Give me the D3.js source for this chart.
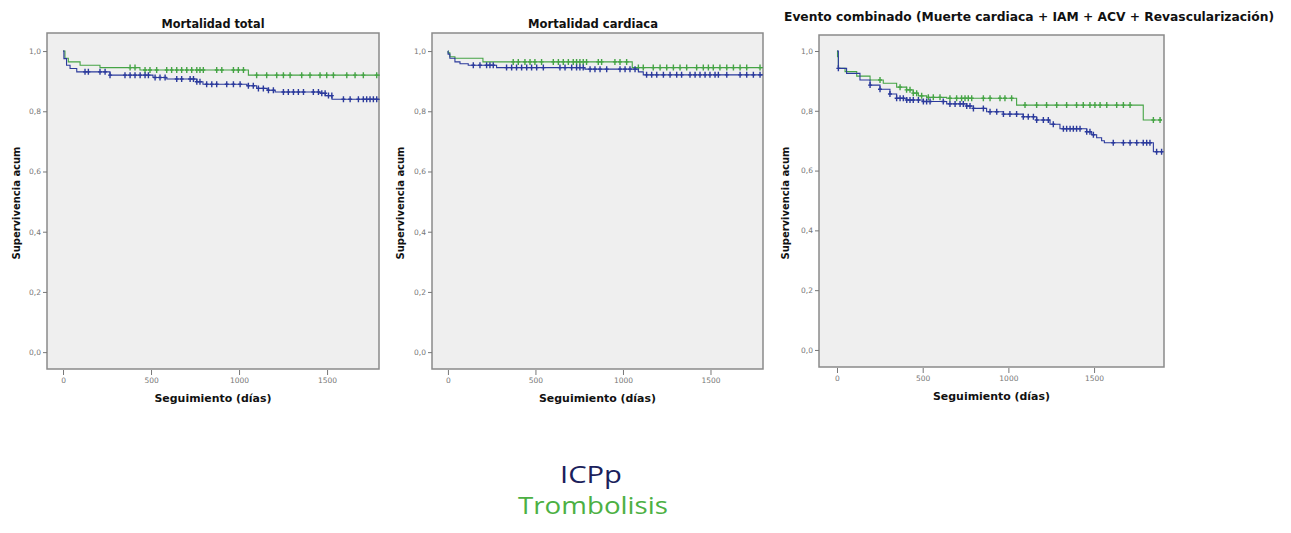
<!DOCTYPE html>
<html>
<head>
<meta charset="utf-8">
<script src="https://cdn.jsdelivr.net/npm/d3@7"></script>
<style>
  body { margin: 0; background: #fff; }
  svg { display: block; }
</style>
</head>
<body>
<div id="chart"></div>
<script>
let width = 1291;
let height = 533;

// títulos de los paneles
let titles = [
    'Mortalidad total',
    'Mortalidad cardiaca',
    'Evento combinado (Muerte cardiaca + IAM + ACV + Revascularización)'
];
let xTicks = [0, 500, 1000, 1500];
let yTicks = [0, 0.2, 0.4, 0.6, 0.8, 1.0];
let xLabel = 'Seguimiento (días)';
let yLabel = 'Supervivencia acum';
let seriesNames = ['ICPp', 'Trombolisis'];

// Mortalidad total - ICPp
let p1IcppT = [0, 5, 20, 40, 78, 267, 511, 590, 760, 795, 1045, 1100, 1160, 1205, 1460, 1490, 1528, 1800];
let p1IcppS = [1.0, 0.975, 0.953, 0.942, 0.931, 0.920, 0.912, 0.907, 0.898, 0.890, 0.885, 0.876, 0.870, 0.864, 0.860, 0.852, 0.840, 0.840];
let p1IcppC = [125, 144, 210, 239, 267, 352, 381, 409, 438, 466, 485, 523, 551, 580, 646, 674, 722, 741, 760, 778, 816, 845, 873, 930, 968, 1006, 1053, 1081, 1110, 1138, 1167, 1195, 1252, 1280, 1309, 1337, 1366, 1422, 1451, 1470, 1489, 1508, 1527, 1593, 1631, 1678, 1706, 1725, 1744, 1763, 1782];
// Mortalidad total - Trombolisis
let p1TromT = [0, 11, 30, 97, 210, 437, 1053, 1800];
let p1TromS = [1.0, 0.976, 0.964, 0.953, 0.945, 0.937, 0.920, 0.920];
let p1TromC = [381, 409, 466, 494, 532, 589, 617, 646, 674, 703, 731, 760, 778, 797, 873, 902, 968, 996, 1025, 1100, 1157, 1214, 1252, 1290, 1356, 1403, 1460, 1498, 1536, 1612, 1659, 1706, 1782];

// Mortalidad cardiaca - ICPp
let p2IcppT = [0, 1, 11, 40, 69, 116, 278, 783, 1088, 1116, 1800];
let p2IcppS = [1.0, 0.99, 0.976, 0.964, 0.958, 0.953, 0.945, 0.940, 0.931, 0.921, 0.921];
let p2IcppC = [145, 183, 221, 240, 259, 335, 364, 392, 421, 450, 478, 507, 545, 640, 669, 707, 735, 754, 773, 812, 840, 869, 907, 983, 1012, 1040, 1069, 1135, 1164, 1193, 1231, 1269, 1307, 1335, 1383, 1412, 1440, 1469, 1497, 1526, 1545, 1593, 1669, 1707, 1745, 1783];
// Mortalidad cardiaca - Trombolisis
let p2TromT = [0, 1, 11, 40, 200, 1053, 1800];
let p2TromS = [1.0, 0.994, 0.981, 0.976, 0.964, 0.945, 0.945];
let p2TromC = [373, 402, 440, 469, 497, 535, 602, 631, 659, 688, 716, 735, 754, 773, 792, 859, 878, 954, 983, 1021, 1088, 1116, 1173, 1212, 1250, 1288, 1326, 1364, 1421, 1459, 1488, 1516, 1554, 1593, 1631, 1669, 1707, 1783];

// Evento combinado - ICPp
let p3IcppT = [0, 8, 56, 134, 193, 251, 309, 348, 407, 504, 640, 757, 796, 873, 971, 1087, 1165, 1243, 1301, 1457, 1486, 1515, 1544, 1560, 1846, 1900];
let p3IcppS = [1.0, 0.942, 0.925, 0.903, 0.886, 0.872, 0.856, 0.842, 0.836, 0.831, 0.823, 0.816, 0.808, 0.797, 0.789, 0.780, 0.769, 0.755, 0.740, 0.730, 0.720, 0.710, 0.700, 0.693, 0.663, 0.663];
let p3IcppC = [8, 193, 251, 309, 348, 368, 387, 407, 426, 445, 475, 504, 523, 543, 620, 659, 689, 718, 737, 757, 776, 796, 854, 893, 932, 971, 1009, 1048, 1087, 1116, 1146, 1165, 1204, 1233, 1262, 1321, 1340, 1360, 1379, 1398, 1418, 1457, 1476, 1496, 1612, 1671, 1710, 1749, 1787, 1807, 1826, 1865, 1894];
// Evento combinado - Trombolisis
let p3TromT = [0, 3, 8, 47, 115, 193, 270, 348, 406, 445, 475, 523, 640, 1048, 1787, 1895];
let p3TromS = [1.0, 0.981, 0.942, 0.931, 0.916, 0.903, 0.892, 0.879, 0.870, 0.859, 0.850, 0.845, 0.842, 0.819, 0.769, 0.769];
let p3TromC = [251, 368, 406, 426, 445, 465, 494, 533, 562, 601, 659, 698, 727, 747, 766, 786, 854, 893, 951, 980, 1019, 1097, 1165, 1223, 1282, 1340, 1398, 1437, 1476, 1505, 1535, 1574, 1632, 1671, 1710, 1846, 1885];

let blue = '#2b3a9c';
let green = '#45a445';

// posición de cada panel (caja del gráfico en píxeles)
let panels = [
    { box: { left: 47, right: 379, top: 33, bottom: 369 }, xDom: [-91, 1795], yDom: [-0.056, 1.06], titleY: 28, titleX: 213, titleW: 103, yLabX: 16,
      icpp: [p1IcppT, p1IcppS, p1IcppC], trom: [p1TromT, p1TromS, p1TromC] },
    { box: { left: 432, right: 763, top: 33, bottom: 369 }, xDom: [-91, 1800], yDom: [-0.056, 1.06], titleY: 28, titleX: 593, titleW: 130, yLabX: 400,
      icpp: [p2IcppT, p2IcppS, p2IcppC], trom: [p2TromT, p2TromS, p2TromC] },
    { box: { left: 819, right: 1164, top: 35, bottom: 367 }, xDom: [-105, 1908], yDom: [-0.057, 1.0535], titleY: 21, titleX: 1029, titleW: 490, yLabX: 785,
      icpp: [p3IcppT, p3IcppS, p3IcppC], trom: [p3TromT, p3TromS, p3TromC] }
];

let svg = d3.select('#chart').append('svg')
    .attr('width', width).attr('height', height);

let fmt = d => d3.format('.1f')(d).replace('.', ',');

panels.forEach((p, i) => {
    let b = p.box;
    let xScale = d3.scaleLinear().domain(p.xDom).range([b.left, b.right]);
    let yScale = d3.scaleLinear().domain(p.yDom).range([b.bottom, b.top]);

    svg.append('rect')
        .attr('x', b.left).attr('y', b.top)
        .attr('width', b.right - b.left).attr('height', b.bottom - b.top)
        .attr('fill', '#efefef')
        .attr('stroke', '#8a8a8a').attr('stroke-width', 1.5);

    // eje y
    let yAxis = d3.axisLeft(yScale).tickValues(yTicks).tickFormat(fmt).tickSize(4).tickPadding(2);
    let gy = svg.append('g')
        .attr('transform', 'translate(' + b.left + ',0)')
        .call(yAxis);
    gy.select('.domain').remove();
    gy.selectAll('line').attr('stroke', '#777');
    gy.selectAll('text').attr('fill', '#777').style('font-family', 'DejaVu Sans').style('font-size', '7.5px');

    // eje x
    let xAxis = d3.axisBottom(xScale).tickValues(xTicks).tickFormat(d3.format('d')).tickSize(5).tickPadding(3);
    let gx = svg.append('g')
        .attr('transform', 'translate(0,' + (b.bottom + 1) + ')')
        .call(xAxis);
    gx.select('.domain').remove();
    gx.selectAll('line').attr('stroke', '#777');
    gx.selectAll('text').attr('fill', '#777').style('font-family', 'DejaVu Sans').style('font-size', '7.5px');

    svg.append('text')
        .text(titles[i])
        .attr('x', p.titleX).attr('y', p.titleY)
        .attr('text-anchor', 'middle')
        .attr('textLength', p.titleW)
        .attr('lengthAdjust', 'spacingAndGlyphs')
        .style('font-family', 'DejaVu Sans').style('font-weight', 'bold').style('font-size', '11.5px')
        .attr('fill', '#111');

    svg.append('text')
        .text(xLabel)
        .attr('x', (b.left + b.right) / 2).attr('y', b.bottom + 33)
        .attr('text-anchor', 'middle')
        .attr('textLength', 117)
        .attr('lengthAdjust', 'spacingAndGlyphs')
        .style('font-family', 'DejaVu Sans').style('font-weight', 'bold').style('font-size', '10.5px')
        .attr('fill', '#111');

    svg.append('text')
        .text(yLabel)
        .attr('transform', 'translate(' + p.yLabX + ',' + ((b.top + b.bottom) / 2 + 2) + ') rotate(-90)')
        .attr('text-anchor', 'middle')
        .attr('dy', '0.35em')
        .attr('textLength', 113)
        .attr('lengthAdjust', 'spacingAndGlyphs')
        .style('font-family', 'DejaVu Sans').style('font-weight', 'bold').style('font-size', '10px')
        .attr('fill', '#111');

    let line = d3.line()
        .x(d => xScale(d[0]))
        .y(d => yScale(d[1]))
        .curve(d3.curveStepAfter);

    // primero Trombolisis, después ICPp encima
    [[p.trom, green], [p.icpp, blue]].forEach(([s, col]) => {
        let pts = s[0].map((t, k) => [t, s[1][k]]);
        svg.append('path')
            .datum(pts)
            .attr('d', line)
            .attr('fill', 'none')
            .attr('stroke', col)
            .attr('stroke-width', 1.1);

        // marcas de censura (+)
        let stepVal = t => s[1][Math.max(0, d3.bisectRight(s[0], t) - 1)];
        svg.append('g').selectAll('path')
            .data(s[2])
            .enter()
            .append('path')
            .attr('d', t => {
                let cx = xScale(t), cy = yScale(stepVal(t));
                return 'M' + cx + ',' + (cy - 3) + 'V' + (cy + 3) +
                    'M' + (cx - 2) + ',' + cy + 'H' + (cx + 2);
            })
            .attr('stroke', col)
            .attr('stroke-width', 1.4)
            .attr('fill', 'none');
    });
});

// leyenda
svg.append('text')
    .text(seriesNames[0])
    .attr('x', 591).attr('y', 483)
    .attr('text-anchor', 'middle')
    .attr('textLength', 62)
    .attr('lengthAdjust', 'spacingAndGlyphs')
    .style('font-family', 'Open Sans').style('font-size', '23px')
    .attr('fill', '#1b1f5c');
svg.append('text')
    .text(seriesNames[1])
    .attr('x', 593).attr('y', 514)
    .attr('text-anchor', 'middle')
    .attr('textLength', 150)
    .attr('lengthAdjust', 'spacingAndGlyphs')
    .style('font-family', 'Open Sans').style('font-size', '23px')
    .attr('fill', '#4cb043');
</script>
</body>
</html>
